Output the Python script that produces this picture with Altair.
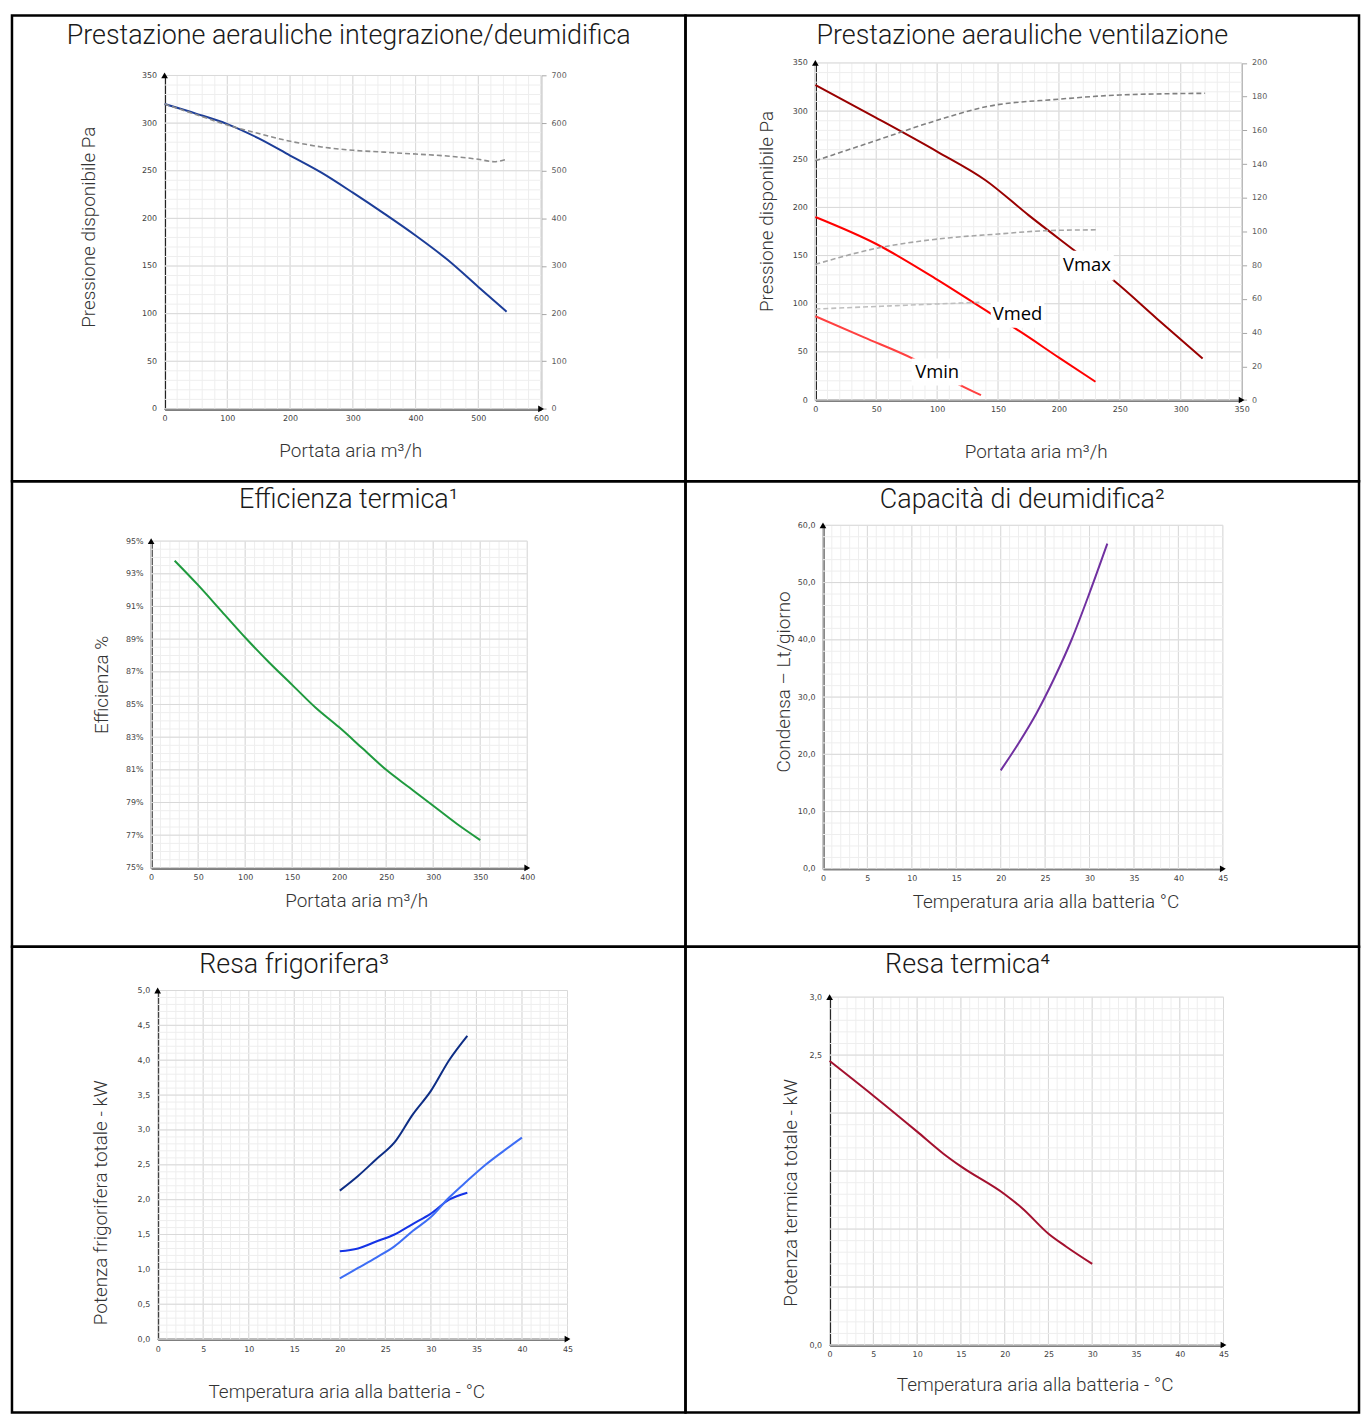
import numpy as np
import pandas as pd
import altair as alt

# ---------------- data ----------------
# Panel 1 - Prestazione aerauliche integrazione/deumidifica
P1_X = [0, 50, 100, 150, 200, 250, 300, 350, 400, 450, 500, 545]
P1_PRESS = [320, 310, 299, 284, 266, 248, 227, 205, 182, 157, 128, 102]
P1_DASH_X = [0, 50, 100, 150, 200, 250, 300, 350, 400, 450, 500, 525, 545]
P1_DASH = [640, 618, 596, 578, 562, 550, 543, 539, 535, 531, 524, 519, 524]
P1_XTICKS = [0, 100, 200, 300, 400, 500, 600]
P1_YTICKS = [0, 50, 100, 150, 200, 250, 300, 350]
P1_RTICKS = [0, 100, 200, 300, 400, 500, 600, 700]

# Panel 2 - Prestazione aerauliche ventilazione
P2_VMAX_X = [0, 50, 100, 140, 175, 213, 245, 280, 318]
P2_VMAX = [327, 293, 258, 228, 192, 155, 124, 85, 43]
P2_VMED_X = [0, 50, 100, 145, 167, 200, 230]
P2_VMED = [190, 162, 125, 89, 72, 44, 19]
P2_VMIN_X = [0, 40, 80, 118, 136]
P2_VMIN = [87, 65, 43, 16, 5]
P2_D1_X = [0, 50, 100, 140, 200, 250, 320]
P2_D1 = [142, 154, 166, 174, 178.5, 181, 182]
P2_D2_X = [0, 50, 100, 150, 190, 231]
P2_D2 = [80.5, 90, 95.5, 98.5, 100.5, 101]
P2_D3_X = [0, 50, 100, 136]
P2_D3 = [54, 55.5, 57, 58]
P2_LABELS = ["Vmax", "Vmed", "Vmin"]
P2_LAB_X = [223, 166, 100]
P2_LAB_Y = [140, 89, 29]
P2_BOX_X0 = [201, 144, 79]
P2_BOX_X1 = [245, 188, 120]
P2_BOX_Y0 = [124, 75, 15]
P2_BOX_Y1 = [155, 102, 43]
P2_XTICKS = [0, 50, 100, 150, 200, 250, 300, 350]
P2_YTICKS = [0, 50, 100, 150, 200, 250, 300, 350]
P2_RTICKS = [0, 20, 40, 60, 80, 100, 120, 140, 160, 180, 200]

# Panel 3 - Efficienza termica
P3_X = [25, 50, 75, 100, 125, 150, 175, 200, 225, 250, 275, 300, 325, 350]
P3_EFF = [93.8, 92.3, 90.7, 89.1, 87.6, 86.2, 84.8, 83.6, 82.3, 81.0, 79.9, 78.8, 77.7, 76.7]
P3_XTICKS = [0, 50, 100, 150, 200, 250, 300, 350, 400]
P3_YTICKS = [75, 77, 79, 81, 83, 85, 87, 89, 91, 93, 95]

# Panel 4 - Capacita di deumidifica
P4_X = [20, 22, 24, 26, 28, 30, 32]
P4_COND = [17.2, 21.9, 27.1, 33.2, 40.1, 48.2, 56.8]
P4_XTICKS = [0, 5, 10, 15, 20, 25, 30, 35, 40, 45]
P4_YTICKS = [0, 10, 20, 30, 40, 50, 60]

# Panel 5 - Resa frigorifera
P5_X = [20, 22, 24, 26, 28, 30, 32, 34]
P5_HIGH = [2.13, 2.34, 2.58, 2.82, 3.22, 3.56, 4.0, 4.35]
P5_MID = [1.26, 1.30, 1.40, 1.50, 1.65, 1.80, 2.0, 2.1]
P5_LOW_X = [20, 22, 24, 26, 28, 30, 32, 34, 36, 38, 40]
P5_LOW = [0.87, 1.02, 1.17, 1.33, 1.55, 1.75, 2.03, 2.27, 2.5, 2.7, 2.89]
P5_XTICKS = [0, 5, 10, 15, 20, 25, 30, 35, 40, 45]
P5_YTICKS = [0, 0.5, 1.0, 1.5, 2.0, 2.5, 3.0, 3.5, 4.0, 4.5, 5.0]

# Panel 6 - Resa termica
P6_X = [0, 5, 10, 13, 15, 20, 22, 25, 27, 30]
P6_POT = [2.45, 2.15, 1.84, 1.65, 1.54, 1.30, 1.18, 0.96, 0.85, 0.70]
P6_XTICKS = [0, 5, 10, 15, 20, 25, 30, 35, 40, 45]
P6_YTICKS = [0, 2.5, 3.0]

# ---------------- layout helpers ----------------
CW, CH = 677, 468          # cell size in this chart
RW, RH = 681, 472          # cell size in the reference
SX, SY = CW / RW, CH / RH

LABEL_FONT = "DejaVu Sans"
TITLE_FONT = "Roboto"
COMMA_EXPR = "replace(format(datum.value, '.1f'), '.', ',')"


def steps(lo, hi, step):
    n = int(round((hi - lo) / step))
    return [round(lo + i * step, 6) for i in range(n + 1)]


def make_panel(c):
    xdom, ydom = c["xdom"], c["ydom"]
    px0, px1 = c["px0"] * SX, c["px1"] * SX
    pyb, pyt = c["pyb"] * SY, c["pyt"] * SY
    xs = alt.Scale(domain=xdom, range=[px0, px1], nice=False, zero=False)
    ys = alt.Scale(domain=ydom, range=[pyb, pyt], nice=False, zero=False)

    xaxis = alt.Axis(
        orient="bottom", offset=-(CH - pyb), values=c["xticks"], grid=False,
        ticks=False, domainColor="black", domainWidth=2, labelFont=LABEL_FONT,
        labelFontSize=8, labelColor="#404040", labelPadding=6, labelFlush=False,
        labelOverlap=False, title=c["xtitle"], titleFont=TITLE_FONT,
        titleFontSize=19, titleFontWeight=300, titleColor="#333333",
        titleX=c["xtx"] * SX, titleY=c["xty"] * SY - pyb,
        titleBaseline="middle", titleAlign="center",
    )
    yargs = dict(
        orient="left", offset=-px0, values=c["yticks"], grid=False,
        ticks=False, domainColor="black", domainWidth=2, labelFont=LABEL_FONT,
        labelFontSize=8, labelColor="#404040", labelPadding=8, labelFlush=False,
        labelOverlap=False, title=c["ytitle"], titleFont=TITLE_FONT,
        titleFontSize=19, titleFontWeight=300, titleColor="#333333",
        titleX=c["ytx"] * SX - px0, titleY=c["yty"] * SY, titleAngle=270,
        titleBaseline="middle", titleAlign="center",
    )
    if c.get("yexpr"):
        yargs["labelExpr"] = c["yexpr"]
    yaxis = alt.Axis(**yargs)

    X = lambda f: alt.X(f, type="quantitative", scale=xs, axis=xaxis)
    Y = lambda f: alt.Y(f, type="quantitative", scale=ys, axis=yaxis)

    layers = []
    # grid
    for vals, col in ((c["xminor"], "#eeeeee"), (c["xmajor"], "#d9d9d9")):
        df = pd.DataFrame({"gx": vals, "y0": ydom[0], "y1": ydom[1]})
        layers.append(alt.Chart(df).mark_rule(color=col, strokeWidth=1).encode(
            x=X("gx"), y=Y("y0"), y2="y1"))
    for vals, col in ((c["yminor"], "#eeeeee"), (c["ymajor"], "#d9d9d9")):
        df = pd.DataFrame({"gy": vals, "x0": xdom[0], "x1": xdom[1]})
        layers.append(alt.Chart(df).mark_rule(color=col, strokeWidth=1).encode(
            y=Y("gy"), x=X("x0"), x2="x1"))
    # series
    for xv, yv, col in c["lines"]:
        df = pd.DataFrame({"x": xv, "y": yv})
        layers.append(alt.Chart(df).mark_line(
            color=col, strokeWidth=2, interpolate="monotone").encode(
            x=X("x"), y=Y("y")))
    # label boxes
    if c.get("boxes") is not None:
        bdf, tdf = c["boxes"]
        layers.append(alt.Chart(bdf).mark_rect(color="white").encode(
            x=X("bx0"), x2="bx1", y=Y("by0"), y2="by1"))
        layers.append(alt.Chart(tdf).mark_text(
            font="Open Sans", fontSize=18.5, color="black").encode(
            x=X("lx"), y=Y("ly"), text="label:N"))
    # axis arrows
    up = pd.DataFrame({"ax": [xdom[0]], "ay": [ydom[1]]})
    rt = pd.DataFrame({"ax": [xdom[1]], "ay": [ydom[0]]})
    layers.append(alt.Chart(up).mark_point(
        shape="triangle-up", filled=True, color="black", size=45, opacity=1).encode(
        x=X("ax"), y=Y("ay")))
    layers.append(alt.Chart(rt).mark_point(
        shape="triangle-right", filled=True, color="black", size=45, opacity=1).encode(
        x=X("ax"), y=Y("ay")))
    # panel title (inside the bordered cell)
    tdf = pd.DataFrame({"t": [c["title"]]})
    layers.append(alt.Chart(tdf).mark_text(
        font=TITLE_FONT, fontSize=27, fontWeight=300, color="#1a1a1a",
        align="center", baseline="alphabetic").encode(
        text="t:N", x=alt.value(CW / 2 + c.get("tdx", 0)), y=alt.value(c.get("ty", 27) * SY)))

    main = alt.layer(*layers)

    if c.get("right") is not None:
        rdom, rticks, rlines = c["right"]
        rs = alt.Scale(domain=rdom, range=[pyb, pyt], nice=False, zero=False)
        raxis = alt.Axis(
            orient="right", offset=-(CW - px1), values=rticks, grid=False,
            ticks=True, tickSize=5, tickColor="#a6a6a6", domainColor="#a6a6a6",
            domainWidth=1.5, labelFont=LABEL_FONT, labelFontSize=8,
            labelColor="#595959", labelPadding=5, labelFlush=False,
            labelOverlap=False, title=None,
        )
        rl = []
        for xv, yv, col in rlines:
            df = pd.DataFrame({"x": xv, "r": yv})
            rl.append(alt.Chart(df).mark_line(
                color=col, strokeWidth=1.6, strokeDash=[5, 3],
                interpolate="monotone").encode(
                x=X("x"), y=alt.Y("r:Q", scale=rs, axis=raxis)))
        chart = alt.layer(main, alt.layer(*rl)).resolve_scale(y="independent")
    else:
        chart = main

    return chart.properties(width=CW, height=CH)


P2_BOXES = (
    pd.DataFrame({"bx0": P2_BOX_X0, "bx1": P2_BOX_X1, "by0": P2_BOX_Y0, "by1": P2_BOX_Y1}),
    pd.DataFrame({"lx": P2_LAB_X, "ly": P2_LAB_Y, "label": P2_LABELS}),
)

panels = [
    dict(title="Prestazione aerauliche integrazione/deumidifica", ty=29,
         xdom=[0, 600], ydom=[0, 350], xticks=P1_XTICKS, yticks=P1_YTICKS,
         xmajor=steps(0, 600, 100), xminor=steps(0, 600, 20),
         ymajor=steps(0, 350, 50), yminor=steps(0, 350, 10),
         px0=154.3, px1=535, pyb=398.7, pyt=60.7,
         ytitle="Pressione disponibile Pa", ytx=77, yty=214,
         xtitle="Portata aria m³/h", xtx=342, xty=441,
         lines=[(P1_X, P1_PRESS, "#1c3d98")],
         right=([0, 700], P1_RTICKS, [(P1_DASH_X, P1_DASH, "#8c8c8c")])),
    dict(title="Prestazione aerauliche ventilazione", ty=29,
         xdom=[0, 350], ydom=[0, 350], xticks=P2_XTICKS, yticks=P2_YTICKS,
         xmajor=steps(0, 350, 50), xminor=steps(0, 350, 10),
         ymajor=steps(0, 350, 50), yminor=steps(0, 350, 10),
         px0=131.3, px1=562.3, pyb=389.7, pyt=48,
         ytitle="Pressione disponibile Pa", ytx=82, yty=198,
         xtitle="Portata aria m³/h", xtx=354, xty=442,
         lines=[(P2_VMAX_X, P2_VMAX, "#990000"),
                (P2_VMED_X, P2_VMED, "#ff0000"),
                (P2_VMIN_X, P2_VMIN, "#ff4040")],
         boxes=P2_BOXES,
         right=([0, 200], P2_RTICKS, [(P2_D1_X, P2_D1, "#808080"),
                                      (P2_D2_X, P2_D2, "#a6a6a6"),
                                      (P2_D3_X, P2_D3, "#bfbfbf")])),
    dict(title="Efficienza termica¹", ty=27,
         xdom=[0, 400], ydom=[75, 95], xticks=P3_XTICKS, yticks=P3_YTICKS,
         xmajor=steps(0, 400, 50), xminor=steps(0, 400, 10),
         ymajor=steps(75, 95, 2), yminor=steps(75, 95, 0.5),
         px0=140.7, px1=521, pyb=392, pyt=60.7,
         ytitle="Efficienza %", ytx=91, yty=206,
         xtitle="Portata aria m³/h", xtx=348, xty=425,
         yexpr="datum.value + '%'",
         lines=[(P3_X, P3_EFF, "#1f9a3e")]),
    dict(title="Capacità di deumidifica²", ty=27,
         xdom=[0, 45], ydom=[0, 60], xticks=P4_XTICKS, yticks=P4_YTICKS,
         xmajor=steps(0, 45, 5), xminor=steps(0, 45, 1),
         ymajor=steps(0, 60, 10), yminor=steps(0, 60, 2),
         px0=139, px1=543.3, pyb=393, pyt=44.7,
         ytitle="Condensa – Lt/giorno", ytx=99, yty=203,
         xtitle="Temperatura aria alla batteria °C", xtx=364, xty=426,
         yexpr=COMMA_EXPR,
         lines=[(P4_X, P4_COND, "#7030a0")]),
    dict(title="Resa frigorifera³", tdx=-55, ty=27,
         xdom=[0, 45], ydom=[0, 5], xticks=P5_XTICKS, yticks=P5_YTICKS,
         xmajor=steps(0, 45, 5), xminor=steps(0, 45, 1),
         ymajor=steps(0, 5, 0.5), yminor=steps(0, 5, 0.1),
         px0=147.3, px1=561.7, pyb=397.7, pyt=44.3,
         ytitle="Potenza frigorifera totale - kW", ytx=90, yty=259,
         xtitle="Temperatura aria alla batteria - °C", xtx=338, xty=451,
         yexpr=COMMA_EXPR,
         lines=[(P5_X, P5_HIGH, "#0d2d85"),
                (P5_X, P5_MID, "#1433e6"),
                (P5_LOW_X, P5_LOW, "#3d6df5")]),
    dict(title="Resa termica⁴", tdx=-55, ty=27,
         xdom=[0, 45], ydom=[0, 3], xticks=P6_XTICKS, yticks=P6_YTICKS,
         xmajor=steps(0, 45, 5), xminor=steps(0, 45, 1),
         ymajor=steps(0, 3, 0.5), yminor=steps(0, 3, 0.1),
         px0=145.7, px1=544, pyb=403.7, pyt=51,
         ytitle="Potenza termica totale - kW", ytx=106, yty=249,
         xtitle="Temperatura aria alla batteria - °C", xtx=353, xty=444,
         yexpr=COMMA_EXPR,
         lines=[(P6_X, P6_POT, "#a3102e")]),
]

charts = [make_panel(p) for p in panels]

chart = alt.concat(
    *charts, columns=2, spacing=0, bounds="flush",
).properties(padding=2).configure_view(stroke="black", strokeWidth=2.5)

chart.save("out.html", embed_options={"renderer": "svg", "actions": False})
